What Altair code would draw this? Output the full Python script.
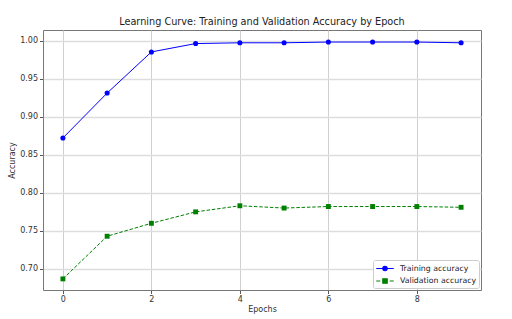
import altair as alt
import pandas as pd

epochs = list(range(10))
train_acc = [0.872, 0.931, 0.985, 0.996, 0.997, 0.997, 0.998, 0.998, 0.998, 0.997]
val_acc = [0.687, 0.743, 0.760, 0.775, 0.783, 0.780, 0.782, 0.782, 0.782, 0.781]
series_names = ["Training accuracy", "Validation accuracy"]
colors = ["#0000ff", "#008000"]
x_ticks = [0, 2, 4, 6, 8]
y_ticks = [0.70, 0.75, 0.80, 0.85, 0.90, 0.95, 1.00]

df = pd.DataFrame({
    "epoch": epochs * 2,
    "acc": train_acc + val_acc,
    "series": [series_names[0]] * len(epochs) + [series_names[1]] * len(epochs),
})

FONT = "DejaVu Sans"
cscale = alt.Scale(domain=series_names, range=colors)

base = alt.Chart(df).encode(
    x=alt.X("epoch:Q",
            scale=alt.Scale(domain=[-0.45, 9.45], nice=False, zero=False),
            axis=alt.Axis(values=x_ticks, title="Epochs", format="d")),
    y=alt.Y("acc:Q",
            scale=alt.Scale(domain=[0.6724, 1.0138], nice=False, zero=False),
            axis=alt.Axis(values=y_ticks, title="Accuracy", format=".2f")),
)

train = base.transform_filter(alt.datum.series == series_names[0])
val = base.transform_filter(alt.datum.series == series_names[1])

line_train = train.mark_line(strokeWidth=1, color=colors[0])
line_val = val.mark_line(strokeWidth=1, color=colors[1], strokeDash=[3.5, 1.8])
pts_train = train.mark_circle(size=26, opacity=1, color=colors[0])
pts_val = val.mark_square(size=24, opacity=1, color=colors[1])

# legend symbols: line segment with marker (custom SVG paths in unit coordinates)
path_train = "M-1.75,0H1.75M-0.45,0A0.45,0.45,0,1,1,0.45,0A0.45,0.45,0,1,1,-0.45,0Z"
path_val = "M-1.75,0H-0.95M-0.45,-0.45H0.45V0.45H-0.45ZM0.95,0H1.75"

leg = alt.Legend(title=None, orient="bottom-right", offset=2, padding=2.5,
                 fillColor="white", strokeColor="#cccccc", cornerRadius=2,
                 labelFont=FONT, labelFontSize=7.8, labelColor="#222222",
                 symbolSize=100, symbolOffset=3.5, labelOffset=9, rowPadding=1.5,
                 symbolOpacity=1, symbolStrokeWidth=1.1)

legend_layer = base.mark_point(filled=True, size=0).encode(
    fill=alt.Fill("series:N", scale=cscale, legend=leg),
    stroke=alt.Stroke("series:N", scale=cscale, legend=leg),
    shape=alt.Shape("series:N", scale=alt.Scale(domain=series_names, range=[path_train, path_val]),
                    legend=leg),
)

chart = alt.layer(line_train, line_val, pts_train, pts_val, legend_layer).properties(
    width=438, height=260,
    title=alt.TitleParams("Learning Curve: Training and Validation Accuracy by Epoch",
                          font=FONT, fontSize=9.7, fontWeight="normal", color="#222222",
                          anchor="middle", offset=3),
    autosize=alt.AutoSizeParams(type="none"),
    padding={"left": 43, "top": 30, "right": 31, "bottom": 29},
).configure_view(
    stroke="#777777", strokeWidth=1
).configure_axis(
    labelFont=FONT, labelFontSize=8, labelColor="#333333",
    titleFont=FONT, titleFontSize=8, titleColor="#333333", titleFontWeight="normal",
    gridColor="#d0d0d0", gridWidth=1, domain=False,
    tickColor="#555555", tickSize=3.5, labelPadding=2,
).configure_axisX(
    titlePadding=2
).configure_axisY(
    titlePadding=3, gridColor="#dddddd", gridWidth=1.4
)

chart.save("out.html", embed_options={"renderer": "svg", "actions": False})
